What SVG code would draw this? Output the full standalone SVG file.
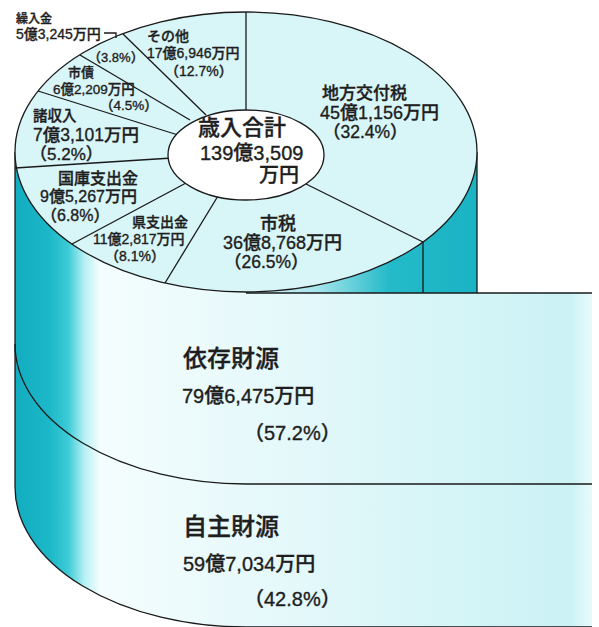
<svg xmlns="http://www.w3.org/2000/svg" width="599" height="627" viewBox="0 0 599 627">
<defs>
<linearGradient id="bodyGrad" gradientUnits="userSpaceOnUse" x1="15" y1="0" x2="592" y2="0">
<stop offset="0" stop-color="#12adc0"/>
<stop offset="0.06" stop-color="#1cb8c8"/>
<stop offset="0.092" stop-color="#3ccbd6"/>
<stop offset="0.121" stop-color="#b8f1f5"/>
<stop offset="0.147" stop-color="#f4fdfd"/>
<stop offset="0.494" stop-color="#e3f8fa"/>
<stop offset="0.962" stop-color="#cbf2f5"/>
<stop offset="1" stop-color="#e8fafb"/>
</linearGradient>
<linearGradient id="wallGrad" gradientUnits="userSpaceOnUse" x1="246" y1="0" x2="477" y2="0">
<stop offset="0" stop-color="#d8f5f8"/>
<stop offset="0.3" stop-color="#a8e6ec"/>
<stop offset="0.62" stop-color="#24bac9"/>
<stop offset="1" stop-color="#1ab3c3"/>
</linearGradient>
</defs>
<style>
.ln{fill:none;stroke:#1a1a1a;stroke-width:1.3}
text{font-family:"Liberation Sans","Noto Sans CJK JP",sans-serif;fill:#1e1e1e;stroke:#1e1e1e;stroke-width:0.35;font-weight:500}
</style>
<rect width="599" height="627" fill="#ffffff"/>
<g id="cylinder-body">
<path d="M15,152 V487 A231,140 0 0 0 246,627 H592 V293 H477 V152 Z" fill="url(#bodyGrad)"/>
<path d="M477,152 A231,140 0 0 1 246,292 V293 H477 Z" fill="url(#wallGrad)"/>
</g>
<g id="band-lines">
<path class="ln" d="M15,152 V487"/>
<path class="ln" d="M477,152 V293"/>
<path class="ln" d="M246,293 H592"/>
<path class="ln" d="M423,242 V293"/>
<path class="ln" d="M15,344 A231,140 0 0 0 246,484 H592"/>
<path class="ln" d="M15,487 A231,140 0 0 0 246,627 H592"/>
</g>
<g id="top-disc">
<ellipse cx="246" cy="152" rx="231" ry="140" fill="#d8f5f8" stroke="#1a1a1a" stroke-width="1.3"/>
</g>
<g id="dividers">
<path class="ln" d="M246,12 V112"/>
<path class="ln" d="M306,184 L423,242"/>
<path class="ln" d="M218,196 L165,283"/>
<path class="ln" d="M186,183 L72,244"/>
<path class="ln" d="M172,158 L15,168"/>
<path class="ln" d="M178,135 L38,91"/>
<path class="ln" d="M190,120 L80,55"/>
<path class="ln" d="M206,115 L123,34"/>
<path class="ln" d="M104,33 H116 V38"/>
</g>
<g id="total">
<ellipse cx="246" cy="155" rx="78" ry="45" fill="#ffffff" stroke="#1a1a1a" stroke-width="1.3"/>
<text x="198" y="135" font-size="22">歳入合計</text>
<text x="200" y="160" font-size="20">139億3,509</text>
<text x="259" y="182" font-size="20">万円</text>
</g>
<g id="kuriire">
<text x="16" y="23" font-size="12">繰入金</text>
<text x="16" y="39" font-size="14">5億3,245万円</text>
<text x="88" y="62" font-size="13">（3.8%）</text>
</g>
<g id="sonota">
<text x="147" y="41" font-size="14">その他</text>
<text x="147" y="58" font-size="14">17億6,946万円</text>
<text x="165" y="76" font-size="14">（12.7%）</text>
</g>
<g id="shisai">
<text x="68" y="77" font-size="13">市債</text>
<text x="53" y="94" font-size="13.5">6億2,209万円</text>
<text x="100" y="110" font-size="13.5">（4.5%）</text>
</g>
<g id="shoshunyu">
<text x="33" y="121" font-size="14.5">諸収入</text>
<text x="33" y="141" font-size="17.5">7億3,101万円</text>
<text x="30" y="160" font-size="17">（5.2%）</text>
</g>
<g id="kokko">
<text x="58" y="184" font-size="16">国庫支出金</text>
<text x="40" y="202" font-size="16">9億5,267万円</text>
<text x="41" y="221" font-size="16">（6.8%）</text>
</g>
<g id="ken">
<text x="132" y="227" font-size="14">県支出金</text>
<text x="93" y="244" font-size="14">11億2,817万円</text>
<text x="105" y="261" font-size="14">（8.1%）</text>
</g>
<g id="chihou">
<text x="322" y="99" font-size="17">地方交付税</text>
<text x="320" y="119" font-size="18">45億1,156万円</text>
<text x="323" y="138" font-size="17.5">（32.4%）</text>
</g>
<g id="shizei">
<text x="260" y="230" font-size="18">市税</text>
<text x="223" y="249" font-size="18">36億8,768万円</text>
<text x="224" y="268" font-size="17.5">（26.5%）</text>
</g>
<g id="izon">
<text x="183" y="367" font-size="24">依存財源</text>
<text x="182" y="403" font-size="20">79億6,475万円</text>
<text x="244" y="440" font-size="20">（57.2%）</text>
</g>
<g id="jishu">
<text x="183" y="535" font-size="24">自主財源</text>
<text x="183" y="571" font-size="20">59億7,034万円</text>
<text x="244" y="606" font-size="20">（42.8%）</text>
</g>
</svg>
